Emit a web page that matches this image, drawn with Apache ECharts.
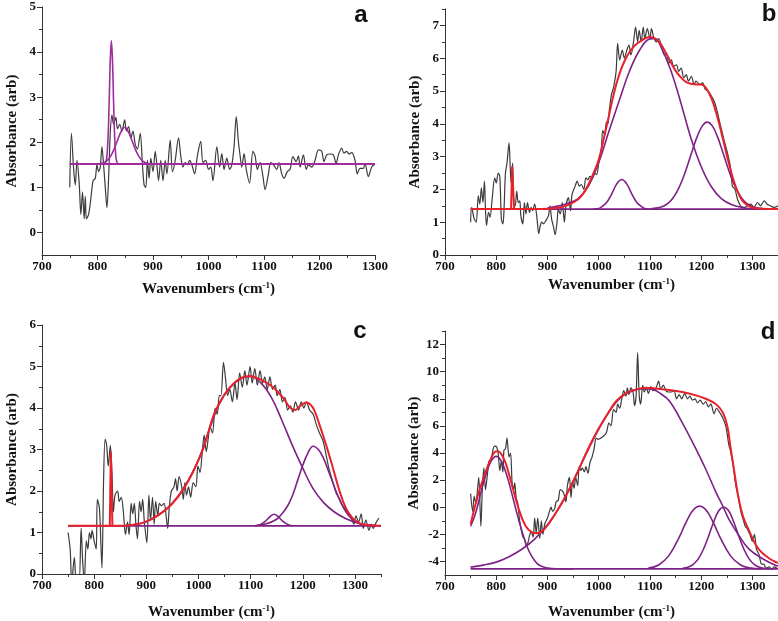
<!DOCTYPE html>
<html><head><meta charset="utf-8">
<script src="https://cdn.jsdelivr.net/npm/echarts@6/dist/echarts.min.js"></script>
<style>html,body{margin:0;padding:0;background:#fff}#chart{width:778px;height:621px}</style>
</head><body><div id="chart"></div><script>
// ---------- tick values ----------
const xMajor = [700, 800, 900, 1000, 1100, 1200, 1300];
const xMinorA = [750, 850, 950, 1050, 1150, 1250];
const xMinor = [750, 850, 950, 1050, 1150, 1250, 1350];
const yMajorA = [0, 1, 2, 3, 4, 5];
const yMinorA = [0.5, 1.5, 2.5, 3.5, 4.5];
const yMajorB = [0, 1, 2, 3, 4, 5, 6, 7];
const yMinorB = [0.5, 1.5, 2.5, 3.5, 4.5, 5.5, 6.5, 7.5];
const yMajorC = [0, 1, 2, 3, 4, 5, 6];
const yMinorC = [0.5, 1.5, 2.5, 3.5, 4.5, 5.5];
const yMajorD = [-4, -2, 0, 2, 4, 6, 8, 10, 12];
const yMinorD = [-3, -1, 1, 3, 5, 7, 9, 11, 13];

// ---------- panel a ----------
const aSpectrum = [[750,1.0],[753,2.2],[757,1.4],[760,1.05],[763,1.6],[767,1.1],[770,0.4],[773,0.9],[776,0.3],[778,0.8],[780,0.3],[784,0.4],[788,0.75],[792,1.15],[796,1.2],[799,1.5],[802,1.35],[805,1.45],[808,1.9],[811,1.5],[814,1.0],[817,0.55],[820,1.2],[823,2.2],[826,2.6],[829,2.4],[833,2.55],[836,2.3],[840,2.4],[844,2.25],[849,2.5],[852,2.25],[856,2.35],[860,2.1],[864,2.25],[868,1.95],[872,1.85],[877,2.2],[881,1.5],[884,1.05],[887,1.0],[890,1.6],[893,1.2],[896,1.65],[900,1.35],[904,1.8],[907,1.5],[910,1.15],[914,1.6],[918,1.15],[922,1.6],[925,1.3],[931,2.05],[935,1.35],[940,1.6],[946,2.1],[950,1.7],[954,1.45],[958,1.55],[962,1.5],[966,1.6],[970,1.5],[975,1.3],[980,1.7],[986,2.02],[990,1.55],[995,1.6],[1000,1.4],[1004,1.45],[1008,1.15],[1015,1.9],[1020,1.45],[1024,1.75],[1028,1.4],[1033,1.65],[1038,1.4],[1042,1.5],[1046,1.9],[1050,2.57],[1054,2.0],[1057,1.7],[1060,1.45],[1064,1.75],[1068,1.4],[1074,1.1],[1080,1.8],[1084,1.7],[1088,1.4],[1093,1.55],[1098,1.25],[1102,0.95],[1108,1.3],[1112,1.55],[1117,1.5],[1123,1.4],[1127,1.55],[1132,1.3],[1136,1.2],[1142,1.35],[1147,1.4],[1152,1.68],[1158,1.57],[1162,1.7],[1165,1.45],[1171,1.72],[1176,1.4],[1180,1.5],[1186,1.45],[1192,1.6],[1198,1.83],[1204,1.8],[1208,1.57],[1213,1.72],[1219,1.74],[1225,1.72],[1230,1.53],[1234,1.72],[1240,1.87],[1244,1.76],[1249,1.8],[1253,1.74],[1258,1.77],[1264,1.6],[1268,1.3],[1273,1.42],[1279,1.42],[1282,1.53],[1288,1.24],[1294,1.45],[1299,1.5]];
const aBaseline = [[750,1.52],[1300,1.52]];
const aPeak825 = [[813,1.52],[815,1.56],[817,1.69],[819,2.09],[821,2.88],[823,3.81],[825,4.25],[827,3.81],[829,2.88],[831,2.09],[833,1.69],[835,1.56],[837,1.52]];
const aPeak849 = [[805,1.53],[810,1.54],[815,1.57],[820,1.63],[825,1.72],[830,1.85],[835,2.01],[840,2.17],[845,2.29],[849,2.33],[853,2.29],[858,2.17],[863,2.01],[868,1.85],[873,1.72],[878,1.63],[883,1.57],[888,1.54],[894,1.52]];

// ---------- panel b ----------
const bSpectrum = [[750,1.0],[752,1.45],[757,1.1],[761,1.0],[765,1.8],[768,1.55],[771,2.05],[774,1.6],[777,2.25],[779,1.4],[781,0.9],[785,1.3],[788,1.15],[792,1.7],[797,2.35],[800,2.2],[804,2.5],[807,2.4],[810,1.1],[813,0.95],[815,1.3],[818,2.5],[821,2.8],[825,3.42],[827,2.8],[829,2.2],[832,2.8],[834,1.6],[837,1.5],[840,1.95],[843,1.6],[846,1.65],[848,1.2],[852,0.95],[855,1.6],[858,1.25],[861,1.6],[865,1.3],[868,1.45],[871,1.35],[875,1.55],[879,1.2],[883,0.65],[886,0.9],[889,1.0],[892,0.95],[897,1.05],[902,1.2],[905,1.5],[908,1.1],[912,0.85],[915,0.62],[919,1.05],[921,1.4],[925,1.25],[929,1.6],[933,1.0],[936,1.5],[941,1.75],[945,1.35],[948,1.85],[954,2.1],[958,2.25],[962,2.1],[966,2.15],[971,2.0],[975,2.35],[979,2.3],[983,2.4],[988,2.35],[992,2.5],[996,2.45],[1000,2.8],[1005,3.2],[1008,3.8],[1012,3.65],[1015,4.05],[1018,4.0],[1021,4.45],[1025,4.9],[1029,5.1],[1034,5.6],[1037,6.45],[1041,5.95],[1046,6.25],[1050,6.0],[1055,6.25],[1059,6.4],[1063,6.1],[1068,6.5],[1072,6.95],[1076,6.5],[1079,6.85],[1083,6.5],[1087,6.95],[1090,6.6],[1095,6.9],[1100,6.6],[1103,6.9],[1108,6.6],[1113,6.5],[1117,6.6],[1123,6.35],[1128,6.1],[1132,6.15],[1137,5.85],[1142,5.95],[1146,5.75],[1152,5.8],[1156,5.6],[1161,5.7],[1166,5.4],[1171,5.5],[1175,5.3],[1181,5.45],[1186,5.2],[1190,5.3],[1197,5.2],[1203,5.25],[1208,5.05],[1213,5.0],[1218,4.9],[1225,4.7],[1231,4.4],[1237,4.0],[1244,3.55],[1250,3.2],[1257,2.7],[1261,2.1],[1266,2.0],[1271,1.7],[1277,1.5],[1284,1.45],[1290,1.5],[1297,1.55],[1303,1.45],[1310,1.6],[1316,1.5],[1323,1.65],[1329,1.55],[1335,1.5],[1342,1.45],[1350,1.5]];
const bFit = [[750,1.4],[800,1.4],[850,1.4],[900,1.41],[920,1.44],[940,1.52],[960,1.7],[970,1.88],[980,2.15],[990,2.5],[1000,2.9],[1010,3.55],[1020,4.25],[1030,4.95],[1040,5.5],[1050,5.9],[1060,6.18],[1070,6.38],[1080,6.5],[1090,6.6],[1100,6.65],[1110,6.6],[1120,6.45],[1130,6.2],[1140,5.9],[1150,5.62],[1160,5.42],[1170,5.28],[1180,5.22],[1190,5.2],[1200,5.2],[1210,5.08],[1220,4.78],[1230,4.3],[1240,3.7],[1250,3.05],[1260,2.45],[1270,1.98],[1280,1.66],[1290,1.52],[1300,1.45],[1310,1.42],[1320,1.41],[1350,1.4]];
const bFitSpike = [[829,1.4],[831,2.7],[833,2.7],[835,1.4]];
const bBaseline = [[750,1.4],[1350,1.4]];
const bPeak1045 = [[990,1.41],[1000,1.42],[1005,1.46],[1015,1.59],[1025,1.85],[1035,2.16],[1045,2.3],[1055,2.16],[1065,1.85],[1075,1.59],[1085,1.46],[1090,1.42],[1100,1.4]];
const bPeak1105 = [[900,1.43],[920,1.49],[940,1.58],[960,1.72],[980,2.1],[1000,2.82],[1020,3.77],[1040,4.7],[1060,5.6],[1080,6.25],[1100,6.59],[1110,6.6],[1120,6.4],[1140,5.66],[1160,4.66],[1180,3.57],[1200,2.7],[1220,2.08],[1240,1.71],[1260,1.53],[1280,1.45],[1300,1.41],[1320,1.4]];
const bPeak1212 = [[1102,1.41],[1112,1.43],[1122,1.46],[1132,1.54],[1142,1.68],[1152,1.91],[1162,2.24],[1172,2.67],[1182,3.15],[1192,3.6],[1202,3.93],[1212,4.05],[1222,3.93],[1232,3.6],[1242,3.15],[1252,2.67],[1262,2.24],[1272,1.91],[1282,1.68],[1292,1.54],[1302,1.46],[1312,1.43],[1322,1.41]];

// ---------- panel c ----------
const cSpectrum = [[750,1.0],[754,0.6],[757,-0.2],[762,0.4],[766,-0.2],[771,-0.2],[775,1.1],[778,0.3],[781,-0.2],[785,0.8],[788,0.6],[791,1.0],[794,0.85],[796,1.05],[800,0.8],[804,0.6],[806,1.8],[810,1.6],[813,0.7],[815,0.15],[818,2.2],[821,3.25],[824,3.1],[827,2.6],[831,3.1],[834,2.5],[837,1.5],[840,1.9],[845,2.0],[848,1.75],[852,1.85],[856,1.5],[860,0.95],[864,1.25],[867,0.95],[871,1.7],[874,1.45],[877,1.7],[880,1.2],[883,0.85],[887,1.75],[890,1.5],[893,1.8],[896,1.3],[901,0.75],[905,1.9],[908,1.3],[912,1.85],[915,1.2],[918,1.75],[922,1.4],[925,1.7],[929,1.65],[934,1.7],[938,1.4],[941,1.1],[944,1.6],[948,2.0],[953,2.1],[956,2.3],[959,2.0],[963,2.35],[968,2.1],[971,1.8],[974,2.2],[977,1.9],[981,2.1],[985,1.85],[990,2.2],[995,2.1],[999,2.6],[1003,2.45],[1007,2.9],[1011,3.35],[1015,2.95],[1019,3.3],[1022,3.55],[1027,3.4],[1032,4.0],[1036,3.85],[1040,4.3],[1043,4.3],[1048,5.1],[1052,4.7],[1056,4.3],[1060,4.45],[1065,4.15],[1070,4.6],[1074,4.2],[1079,4.85],[1084,4.5],[1089,4.9],[1093,4.55],[1099,5.0],[1103,4.6],[1108,4.95],[1113,4.55],[1118,4.9],[1123,4.6],[1127,4.75],[1132,4.45],[1137,4.75],[1142,4.45],[1147,4.55],[1151,4.3],[1156,4.45],[1161,4.15],[1166,4.25],[1171,3.95],[1176,4.05],[1181,3.9],[1186,4.15],[1192,3.95],[1197,4.15],[1202,4.0],[1207,4.15],[1213,3.95],[1220,3.85],[1226,3.6],[1232,3.4],[1239,3.2],[1245,2.85],[1251,2.5],[1258,2.2],[1264,1.95],[1271,1.8],[1276,1.65],[1280,1.6],[1286,1.45],[1293,1.35],[1298,1.2],[1302,1.4],[1307,1.25],[1312,1.45],[1316,1.1],[1321,1.3],[1327,1.05],[1331,1.2],[1335,1.1],[1341,1.25],[1346,1.35]];
const cFit = [[750,1.16],[800,1.16],[850,1.16],[870,1.18],[890,1.22],[910,1.32],[930,1.48],[950,1.7],[970,2.02],[990,2.47],[1010,3.05],[1030,3.85],[1050,4.33],[1070,4.62],[1090,4.76],[1100,4.77],[1110,4.73],[1125,4.65],[1140,4.53],[1155,4.35],[1165,4.2],[1175,4.02],[1185,3.95],[1195,4.05],[1207,4.13],[1215,4.08],[1222,3.95],[1232,3.6],[1245,3.1],[1258,2.55],[1271,1.98],[1283,1.58],[1296,1.34],[1309,1.22],[1321,1.18],[1350,1.16]];
const cFitSpike = [[830,1.16],[832,2.95],[834,2.95],[835,1.16]];
const cBaseline = [[750,1.16],[1350,1.16]];
const cPeak1100 = [[860,1.17],[880,1.2],[900,1.26],[920,1.4],[940,1.58],[960,1.86],[980,2.25],[1000,2.75],[1020,3.45],[1040,4.1],[1060,4.48],[1080,4.7],[1100,4.76],[1120,4.6],[1140,4.25],[1160,3.7],[1180,3.1],[1200,2.55],[1220,2.05],[1240,1.72],[1260,1.5],[1280,1.35],[1300,1.25],[1320,1.19],[1340,1.17]];
const cPeak1145 = [[1108,1.16],[1118,1.19],[1128,1.27],[1138,1.39],[1145,1.44],[1152,1.39],[1162,1.27],[1172,1.19],[1182,1.16]];
const cPeak1220 = [[1110,1.17],[1130,1.21],[1150,1.32],[1160,1.45],[1170,1.62],[1180,1.88],[1190,2.25],[1200,2.62],[1210,2.92],[1220,3.08],[1230,3.0],[1240,2.78],[1250,2.46],[1260,2.12],[1270,1.8],[1280,1.55],[1290,1.38],[1300,1.27],[1310,1.21],[1320,1.18],[1340,1.16]];

// ---------- panel d ----------
const dSpectrum = [[750,1.0],[754,-0.3],[757,0.8],[760,0.3],[764,1.5],[766,2.2],[770,-1.4],[773,1.5],[776,2.9],[779,1.3],[783,2.5],[786,3.4],[790,3.5],[794,4.3],[797,4.5],[801,4.45],[804,3.9],[807,2.7],[810,3.4],[813,2.6],[815,4.2],[818,4.3],[821,5.1],[825,3.7],[828,4.0],[831,1.8],[834,1.3],[836,1.8],[839,0.7],[842,0.3],[845,-0.8],[848,-1.5],[852,-2.2],[855,-2.3],[859,-2.9],[862,-2.6],[865,-2.1],[868,-1.8],[872,-2.2],[875,-0.8],[878,-1.9],[881,-0.8],[885,-2.3],[888,-1.0],[891,-2.0],[895,-1.2],[900,-0.8],[904,-0.3],[907,0.0],[910,-0.3],[914,-0.1],[917,0.4],[921,0.5],[925,1.3],[929,1.2],[932,1.0],[936,0.4],[939,1.6],[943,2.2],[946,0.7],[949,1.9],[952,1.4],[955,2.2],[959,1.6],[962,3.0],[965,2.7],[968,2.9],[972,2.6],[975,3.0],[979,2.5],[983,3.3],[987,3.7],[991,4.3],[995,5.1],[999,5.0],[1008,5.2],[1015,5.5],[1020,6.2],[1024,6.0],[1029,7.2],[1034,7.0],[1037,7.6],[1041,7.3],[1045,8.0],[1049,8.6],[1053,8.2],[1056,8.8],[1059,8.3],[1063,8.8],[1067,8.5],[1070,7.5],[1073,8.2],[1076,11.4],[1079,8.3],[1082,7.6],[1086,9.0],[1089,8.5],[1093,8.8],[1097,8.4],[1102,8.9],[1106,8.6],[1111,8.7],[1117,9.3],[1121,8.7],[1126,9.0],[1131,8.6],[1136,8.5],[1141,8.5],[1147,8.6],[1152,8.0],[1157,8.3],[1162,8.0],[1168,8.4],[1173,8.0],[1178,8.2],[1183,7.9],[1188,8.0],[1193,7.7],[1198,7.9],[1204,7.6],[1209,7.8],[1214,7.4],[1219,7.6],[1225,6.9],[1230,7.3],[1236,7.0],[1242,6.6],[1248,6.0],[1254,4.6],[1257,4.2],[1262,3.2],[1267,1.8],[1272,0.8],[1278,-0.4],[1282,-0.9],[1286,-1.4],[1290,-1.6],[1295,-2.0],[1300,-2.5],[1304,-2.0],[1308,-3.1],[1313,-3.5],[1318,-4.2],[1322,-4.2],[1327,-4.5],[1333,-4.4],[1338,-4.6],[1342,-4.4],[1348,-4.5]];
const dFit = [[750,-1.24],[766,1.1],[779,2.56],[792,3.79],[801,4.12],[808,4.03],[818,3.3],[831,1.58],[844,-0.13],[857,-1.36],[870,-1.85],[879,-1.92],[889,-1.8],[902,-1.24],[921,-0.13],[941,1.2],[960,2.7],[979,4.28],[999,5.75],[1015,6.73],[1034,7.83],[1053,8.4],[1073,8.69],[1092,8.81],[1111,8.76],[1138,8.64],[1163,8.5],[1190,8.25],[1209,8.0],[1229,7.6],[1242,7.0],[1251,6.0],[1257,4.5],[1264,2.8],[1271,1.1],[1281,-0.6],[1295,-1.85],[1307,-2.8],[1320,-3.4],[1334,-3.8],[1346,-4.05],[1350,-4.1]];
const dBaseline = [[750,-4.55],[1350,-4.55]];
const dPeak800 = [[750,-1.4],[760,-0.4],[770,1.08],[780,2.43],[790,3.4],[800,3.75],[810,3.4],[820,2.43],[830,1.08],[840,-0.4],[850,-1.74],[860,-2.9],[870,-3.66],[880,-4.16],[890,-4.38],[900,-4.49],[920,-4.54],[950,-4.55]];
const dPeak1085 = [[750,-4.42],[775,-4.27],[800,-4.05],[825,-3.65],[850,-3.1],[875,-2.35],[900,-1.3],[925,0.1],[950,1.9],[975,3.9],[1000,5.75],[1025,7.3],[1050,8.3],[1075,8.68],[1090,8.75],[1105,8.7],[1120,8.4],[1138,7.83],[1163,6.24],[1190,4.28],[1209,2.8],[1229,1.1],[1242,0.11],[1254,-0.87],[1274,-2.1],[1293,-3.07],[1320,-3.8],[1346,-4.3],[1350,-4.33]];
const dPeak1197 = [[1097,-4.49],[1117,-4.26],[1137,-3.57],[1157,-2.23],[1167,-1.4],[1177,-0.64],[1187,-0.1],[1197,0.08],[1207,-0.1],[1217,-0.64],[1227,-1.4],[1237,-2.23],[1257,-3.57],[1277,-4.26],[1297,-4.49],[1317,-4.55]];
const dPeak1244 = [[1164,-4.51],[1174,-4.43],[1184,-4.23],[1194,-3.83],[1204,-3.14],[1214,-2.19],[1224,-1.13],[1234,-0.28],[1244,0.0],[1254,-0.28],[1264,-1.13],[1274,-2.19],[1284,-3.14],[1294,-3.83],[1304,-4.23],[1314,-4.43],[1324,-4.51],[1334,-4.55]];

// ---------- styling ----------
const SERIF = 'Liberation Serif';
const AX = '#333333';
const BLACK = '#3c3c3c';
const PURPLE = '#7e2185';
const MAGENTA = '#a02a9e';
const RED = '#e8222a';

const grids = [
  {left: 42, top: 7, width: 333, height: 248},
  {left: 445, top: 9, width: 334, height: 246},
  {left: 42, top: 325, width: 339, height: 249},
  {left: 445, top: 331, width: 334, height: 244}
];

function xName(word) {
  return '{n|' + word + ' (cm}{s|-1}{n|)}';
}
const nameRich = {
  n: {fontFamily: SERIF, fontWeight: 'bold', fontSize: 15, color: '#111', lineHeight: 17},
  s: {fontFamily: SERIF, fontWeight: 'bold', fontSize: 9, color: '#111', verticalAlign: 'top', lineHeight: 17}
};
const plain = function (v) { return String(v); };

const xAxes = [], yAxes = [];
function addAxes(gi, xmax, xMin, ymin, ymax, yMaj, yMin, word, nameGap) {
  xAxes.push({
    type: 'value', gridIndex: gi, position: 'bottom', min: 700, max: xmax,
    axisLine: {show: true, onZero: false, lineStyle: {color: AX, width: 1}},
    axisTick: {show: true, inside: false, customValues: xMajor, length: 5, lineStyle: {color: AX, width: 1}},
    axisLabel: {customValues: xMajor, formatter: plain, margin: 5, color: '#111', fontFamily: SERIF, fontWeight: 'bold', fontSize: 13},
    splitLine: {show: false},
    name: xName(word), nameLocation: 'middle', nameGap: nameGap,
    nameTextStyle: {rich: nameRich}
  });
  xAxes.push({
    type: 'value', gridIndex: gi, position: 'bottom', min: 700, max: xmax,
    axisLine: {show: false, onZero: false}, axisLabel: {show: false}, splitLine: {show: false},
    axisTick: {show: true, inside: false, customValues: xMin, length: 3, lineStyle: {color: AX, width: 1}}
  });
  yAxes.push({
    type: 'value', gridIndex: gi, position: 'left', min: ymin, max: ymax,
    axisLine: {show: true, onZero: false, lineStyle: {color: AX, width: 1}},
    axisTick: {show: true, inside: false, customValues: yMaj, length: 5, lineStyle: {color: AX, width: 1}},
    axisLabel: {customValues: yMaj, formatter: plain, margin: 6, color: '#111', fontFamily: SERIF, fontWeight: 'bold', fontSize: 13},
    splitLine: {show: false},
    name: 'Absorbance (arb)', nameLocation: 'middle', nameGap: 22,
    nameTextStyle: {fontFamily: SERIF, fontWeight: 'bold', fontSize: 15, color: '#111'}
  });
  yAxes.push({
    type: 'value', gridIndex: gi, position: 'left', min: ymin, max: ymax,
    axisLine: {show: false, onZero: false}, axisLabel: {show: false}, splitLine: {show: false},
    axisTick: {show: true, inside: false, customValues: yMin, length: 3, lineStyle: {color: AX, width: 1}}
  });
}
addAxes(0, 1300, xMinorA, -0.5, 5, yMajorA, yMinorA, 'Wavenumbers', 26);
addAxes(1, 1350, xMinor, 0, 7.5, yMajorB, yMinorB, 'Wavenumber', 22);
addAxes(2, 1350, xMinor, 0, 6, yMajorC, yMinorC, 'Wavenumber', 30);
addAxes(3, 1350, xMinor, -5, 13, yMajorD, yMinorD, 'Wavenumber', 29);

const series = [];
function line(gi, data, color, width, smooth) {
  series.push({
    type: 'line', xAxisIndex: gi * 2, yAxisIndex: gi * 2, data: data,
    showSymbol: false, symbol: 'none', clip: true, smooth: smooth,
    lineStyle: {color: color, width: width}, silent: true, z: 2
  });
}
// a
line(0, aSpectrum, BLACK, 1.2, 0.3);
line(0, aBaseline, MAGENTA, 2, false);
line(0, aPeak849, MAGENTA, 1.6, 0.4);
line(0, aPeak825, MAGENTA, 1.6, 0.4);
// b
line(1, bSpectrum, BLACK, 1.2, 0.3);
line(1, bBaseline, PURPLE, 1.6, false);
line(1, bPeak1045, PURPLE, 1.6, 0.4);
line(1, bPeak1105, PURPLE, 1.6, 0.4);
line(1, bPeak1212, PURPLE, 1.6, 0.4);
line(1, bFit, RED, 2, 0.4);
line(1, bFitSpike, RED, 2, false);
// c
line(2, cSpectrum, BLACK, 1.2, 0.3);
line(2, cBaseline, PURPLE, 1.6, false);
line(2, cPeak1100, PURPLE, 1.6, 0.4);
line(2, cPeak1145, PURPLE, 1.6, 0.4);
line(2, cPeak1220, PURPLE, 1.6, 0.4);
line(2, cFit, RED, 2, 0.4);
line(2, cFitSpike, RED, 2, false);
// d
line(3, dSpectrum, BLACK, 1.2, 0.3);
line(3, dBaseline, PURPLE, 1.6, false);
line(3, dPeak800, PURPLE, 1.6, 0.4);
line(3, dPeak1085, PURPLE, 1.6, 0.4);
line(3, dPeak1197, PURPLE, 1.6, 0.4);
line(3, dPeak1244, PURPLE, 1.6, 0.4);
line(3, dFit, RED, 2, 0.4);

const letters = [['a', 361, 15], ['b', 769, 14], ['c', 360, 331], ['d', 768, 332]];
const graphic = letters.map(function (l) {
  return {type: 'text', x: l[1], y: l[2], z: 10,
    style: {text: l[0], font: 'bold 24px "Liberation Sans"', fill: '#111', align: 'center', verticalAlign: 'middle'}};
});

const chart = echarts.init(document.getElementById('chart'), null, {renderer: 'canvas'});
chart.setOption({
  animation: false,
  backgroundColor: '#ffffff',
  grid: grids,
  xAxis: xAxes,
  yAxis: yAxes,
  series: series,
  graphic: graphic
});
</script></body></html>
